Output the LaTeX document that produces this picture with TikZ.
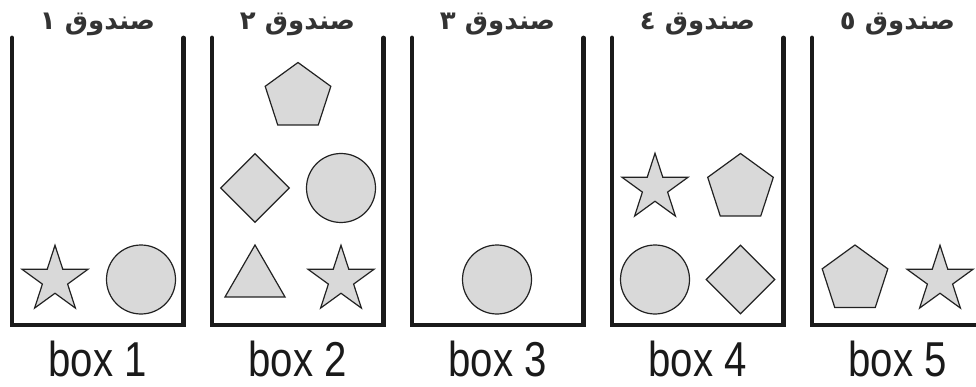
\documentclass[tikz,border=0pt]{standalone}
\usepackage{fontspec}
\usetikzlibrary{shapes.geometric}
\TeXXeTstate=1
\newfontfamily\arabicfont[Script=Arabic]{DejaVu Sans}
\newfontfamily\boxfont[FakeStretch=0.82]{Liberation Sans}
\definecolor{wallc}{HTML}{1A1A1A}
\definecolor{shapefill}{HTML}{D9D9D9}
\definecolor{shapeline}{HTML}{222222}
\definecolor{labc}{HTML}{333333}
\tikzset{
  wall/.style={draw=wallc, line width=4.8pt, line cap=round, line join=miter},
  item/.style={draw=shapeline, fill=shapefill, line width=1.2pt, inner sep=0pt, outer sep=0pt},
  circ/.style={item, circle, minimum size=69pt},
  pent/.style={item, regular polygon, regular polygon sides=5, minimum size=69pt},
  tri/.style={item, regular polygon, regular polygon sides=3, minimum size=69.2pt},
  diam/.style={item, diamond, minimum size=68.6pt},
  starshape/.style={item, star, star points=5, star point ratio=2.618, minimum size=69.4pt},
  toplabel/.style={text=labc, font=\arabicfont\bfseries\fontsize{26}{28}\selectfont, anchor=base, inner sep=0pt},
  botlabel/.style={text=wallc, font=\boxfont\fontsize{49}{52}\selectfont, anchor=base, inner sep=0pt, text depth=0pt}
}
\begin{document}
\begin{tikzpicture}[x=1pt, y=-1pt]
\clip (0,0) rectangle (976,387);
\fill[white] (0,0) rectangle (976,387);
% walls
\foreach \i in {0,...,4}{
  \draw[wall] (12+200*\i,38) -- (12+200*\i,325) -- (183.5+200*\i,325) -- (183.5+200*\i,38);
}
% top labels
\node[toplabel] (t1) at (97.5,30) {\beginR صندوق ١\endR};
\node[toplabel] (t2) at (297.5,30) {\beginR صندوق ٢\endR};
\node[toplabel] (t3) at (497.5,30) {\beginR صندوق ٣\endR};
\node[toplabel] (t4) at (697.5,30) {\beginR صندوق ٤\endR};
\node[toplabel] (t5) at (897.5,30) {\beginR صندوق ٥\endR};
% bottom labels
\node[botlabel] (l1) at (97.5,376.5) {box 1};
\node[botlabel] (l2) at (297.5,376.5) {box 2};
\node[botlabel] (l3) at (497.5,376.5) {box 3};
\node[botlabel] (l4) at (697.5,376.5) {box 4};
\node[botlabel] (l5) at (897.5,376.5) {box 5};
% box 1
\node[starshape] (b1star) at (55,280) {};
\node[circ] (b1circ) at (141,279.5) {};
% box 2
\node[pent] (b2pent) at (298,97) {};
\node[diam] (b2diam) at (255,188) {};
\node[circ] (b2circ) at (341,188) {};
\node[tri] (b2tri) at (255,279.6) {};
\node[starshape] (b2star) at (341,280) {};
% box 3
\node[circ] (b3circ) at (497,279.5) {};
% box 4
\node[starshape] (b4star) at (655,188) {};
\node[pent] (b4pent) at (740.5,188) {};
\node[circ] (b4circ) at (655,279.5) {};
\node[diam] (b4diam) at (740.5,279.5) {};
% box 5
\node[pent] (b5pent) at (855,279.5) {};
\node[starshape] (b5star) at (940,280) {};
\end{tikzpicture}
\end{document}
